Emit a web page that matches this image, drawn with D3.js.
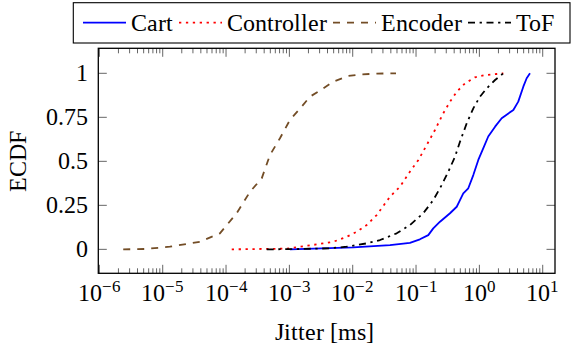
<!DOCTYPE html>
<html>
<head>
<meta charset="utf-8">
<style>
    @font-face { font-family: "ChartSerif"; src: local("Liberation Serif"), local("LiberationSerif"), local("Liberation Serif Regular"), local("LiberationSerif-Regular"); }
    body { margin: 0; background: #fff; }
</style>
</head>
<body>
<script src="https://cdn.jsdelivr.net/npm/d3@7"></script>
<script>
// jitter in ms, ECDF value
var cartX = [1.02e-3, 1.02e-2, 3.88e-2, 8.0e-2, 0.115, 0.156, 0.187, 0.239, 0.344, 0.439, 0.494, 0.557, 0.668, 0.802, 0.962, 1.15, 1.38, 1.77, 2.25, 3.44, 4.11, 4.94, 5.58, 6.30];
var cartY = [0, 0.011, 0.024, 0.037, 0.057, 0.081, 0.119, 0.157, 0.205, 0.242, 0.280, 0.318, 0.347, 0.422, 0.508, 0.574, 0.641, 0.697, 0.745, 0.792, 0.839, 0.924, 0.972, 1.0];

var controllerX = [1.23e-4, 9.1e-4, 1.47e-3, 2.70e-3, 4.93e-3, 8.0e-3, 1.16e-2, 1.66e-2, 2.39e-2, 3.88e-2, 5.58e-2, 8.0e-2, 0.109, 0.147, 0.199, 0.269, 0.344, 0.439, 0.593, 0.853, 1.23, 1.88, 2.39];
var controllerY = [0, 0.004, 0.015, 0.028, 0.043, 0.071, 0.100, 0.138, 0.195, 0.299, 0.356, 0.441, 0.508, 0.592, 0.678, 0.773, 0.839, 0.895, 0.943, 0.977, 0.990, 0.996, 1.0];

var encoderX = [2.38e-6, 5.25e-6, 1.30e-5, 3.87e-5, 8.0e-5, 1.47e-4, 2.39e-4, 3.66e-4, 4.94e-4, 7.1e-4, 1.02e-3, 1.56e-3, 2.11e-3, 3.24e-3, 4.93e-3, 8.5e-3, 1.39e-2, 2.39e-2, 4.12e-2, 4.82e-2];
var encoderY = [0, 0.002, 0.015, 0.043, 0.091, 0.205, 0.327, 0.403, 0.536, 0.631, 0.735, 0.810, 0.867, 0.909, 0.952, 0.985, 0.994, 0.998, 1.0, 1.0];

var tofX = [4.39e-4, 1.47e-3, 4.38e-3, 8.0e-3, 1.66e-2, 2.70e-2, 4.95e-2, 8.0e-2, 0.130, 0.187, 0.254, 0.323, 0.412, 0.494, 0.631, 0.802, 1.02, 1.31, 1.77, 2.39];
var tofY = [0, 0.002, 0.006, 0.015, 0.034, 0.053, 0.091, 0.138, 0.205, 0.280, 0.365, 0.441, 0.526, 0.611, 0.716, 0.801, 0.867, 0.915, 0.962, 1.0];

var seriesNames = ["Cart", "Controller", "Encoder", "ToF"];
var xTickExps = [-6, -5, -4, -3, -2, -1, 0, 1];
var yTicks = [0, 0.25, 0.5, 0.75, 1];

var styles = [
    {color: "#0000ff", dash: null},
    {color: "#ff0000", dash: "2.3 4.6"},
    {color: "#734d26", dash: "7 7"},
    {color: "#000000", dash: "7 4.6 2.3 4.6"}
];

var series = [
    {name: seriesNames[0], x: cartX, y: cartY},
    {name: seriesNames[1], x: controllerX, y: controllerY},
    {name: seriesNames[2], x: encoderX, y: encoderY},
    {name: seriesNames[3], x: tofX, y: tofY}
];

var W = 576, H = 347,
    margin = {top: 48.3, right: 21, bottom: 73.7, left: 98.3},
    width = W - margin.left - margin.right,
    height = H - margin.top - margin.bottom,
    fontSize = 23.5,
    fontName = "ChartSerif, 'Liberation Serif', serif";

var svg = d3.select("body").append("svg")
    .attr("width", W)
    .attr("height", H)
    .style("display", "block");

var g = svg.append("g")
    .attr("transform", "translate(" + margin.left + "," + margin.top + ")");

var x = d3.scaleLog()
    .domain([Math.pow(10, -6.017), Math.pow(10, 1.194)])
    .range([0, width]);

var y = d3.scaleLinear()
    .domain([-0.136, 1.142])
    .range([height, 0]);

g.append("clipPath")
    .attr("id", "plotClip")
  .append("rect")
    .attr("width", width)
    .attr("height", height);

// minor ticks (2..9 in each decade), top and bottom, pointing inward
var minor = [];
for (var e = -7; e <= 1; ++e)
    for (var m = 2; m <= 9; ++m) {
        var v = m * Math.pow(10, e);
        if (v > x.domain()[0] && v < x.domain()[1]) minor.push(v);
    }
var major = xTickExps.map(function(e){ return Math.pow(10, e); });

function tickLine(x1, y1, x2, y2) {
    g.append("line")
        .attr("x1", x1).attr("y1", y1).attr("x2", x2).attr("y2", y2)
        .attr("stroke", "#555")
        .attr("stroke-width", 0.9);
}

function vTicks(vals, len) {
    vals.forEach(function(v){
        var px = x(v);
        tickLine(px, height, px, height - len);
        tickLine(px, 0, px, len);
    });
}
vTicks(minor, 5);
vTicks(major, 8.5);

yTicks.forEach(function(v){
    var py = y(v);
    tickLine(0, py, 8.5, py);
    tickLine(width, py, width - 8.5, py);
});

// curves
var line = d3.line()
    .x(function(d){ return x(d[0]); })
    .y(function(d){ return y(d[1]); });

series.forEach(function(s, i){
    var pts = s.x.map(function(v, j){ return [v, s.y[j]]; });
    g.append("path")
        .datum(pts)
        .attr("clip-path", "url(#plotClip)")
        .attr("d", line)
        .attr("fill", "none")
        .attr("stroke", styles[i].color)
        .attr("stroke-width", 1.8)
        .attr("stroke-dasharray", styles[i].dash)
        .attr("stroke-linejoin", "round");
});

// frame
g.append("rect")
    .attr("width", width)
    .attr("height", height)
    .attr("fill", "none")
    .attr("stroke", "#000")
    .attr("stroke-width", 1.3);

function addText(parent, str) {
    return parent.append("text")
        .attr("font-size", fontSize)
        .style("font-family", fontName)
        .text(str);
}

// tick labels
xTickExps.forEach(function(e){
    var t = g.append("text")
        .attr("x", x(Math.pow(10, e)))
        .attr("y", height + 28)
        .attr("text-anchor", "middle")
        .attr("font-size", fontSize)
        .style("font-family", fontName);
    t.append("tspan").text("10");
    t.append("tspan")
        .attr("dy", -9)
        .attr("font-size", 16.5)
        .text(e < 0 ? "\u2212" + (-e) : "" + e);
});

yTicks.forEach(function(v){
    addText(g, String(v))
        .attr("x", -10)
        .attr("y", y(v))
        .attr("dy", "0.34em")
        .attr("text-anchor", "end");
});

// axis labels
addText(svg, "Jitter [ms]")
    .attr("x", margin.left + width / 2 - 2)
    .attr("y", 340)
    .attr("text-anchor", "middle");

addText(svg, "ECDF")
    .attr("transform", "translate(26," + (margin.top + y(0.5)) + ") rotate(-90)")
    .attr("text-anchor", "middle");

// legend
var legend = svg.append("g");
legend.append("rect")
    .attr("x", 73.3)
    .attr("y", 2.7)
    .attr("width", 496.7)
    .attr("height", 40.3)
    .attr("fill", "#fff")
    .attr("stroke", "#000")
    .attr("stroke-width", 1.1);

var lx = 83;
seriesNames.forEach(function(name, i){
    legend.append("line")
        .attr("x1", lx).attr("x2", lx + 43)
        .attr("y1", 22.7).attr("y2", 22.7)
        .attr("stroke", styles[i].color)
        .attr("stroke-width", 1.8)
        .attr("stroke-dasharray", styles[i].dash);
    var t = addText(legend, name)
        .attr("x", lx + 48)
        .attr("y", 30.5);
    lx += 48 + t.node().getComputedTextLength() + 6;
});
</script>
</body>
</html>
